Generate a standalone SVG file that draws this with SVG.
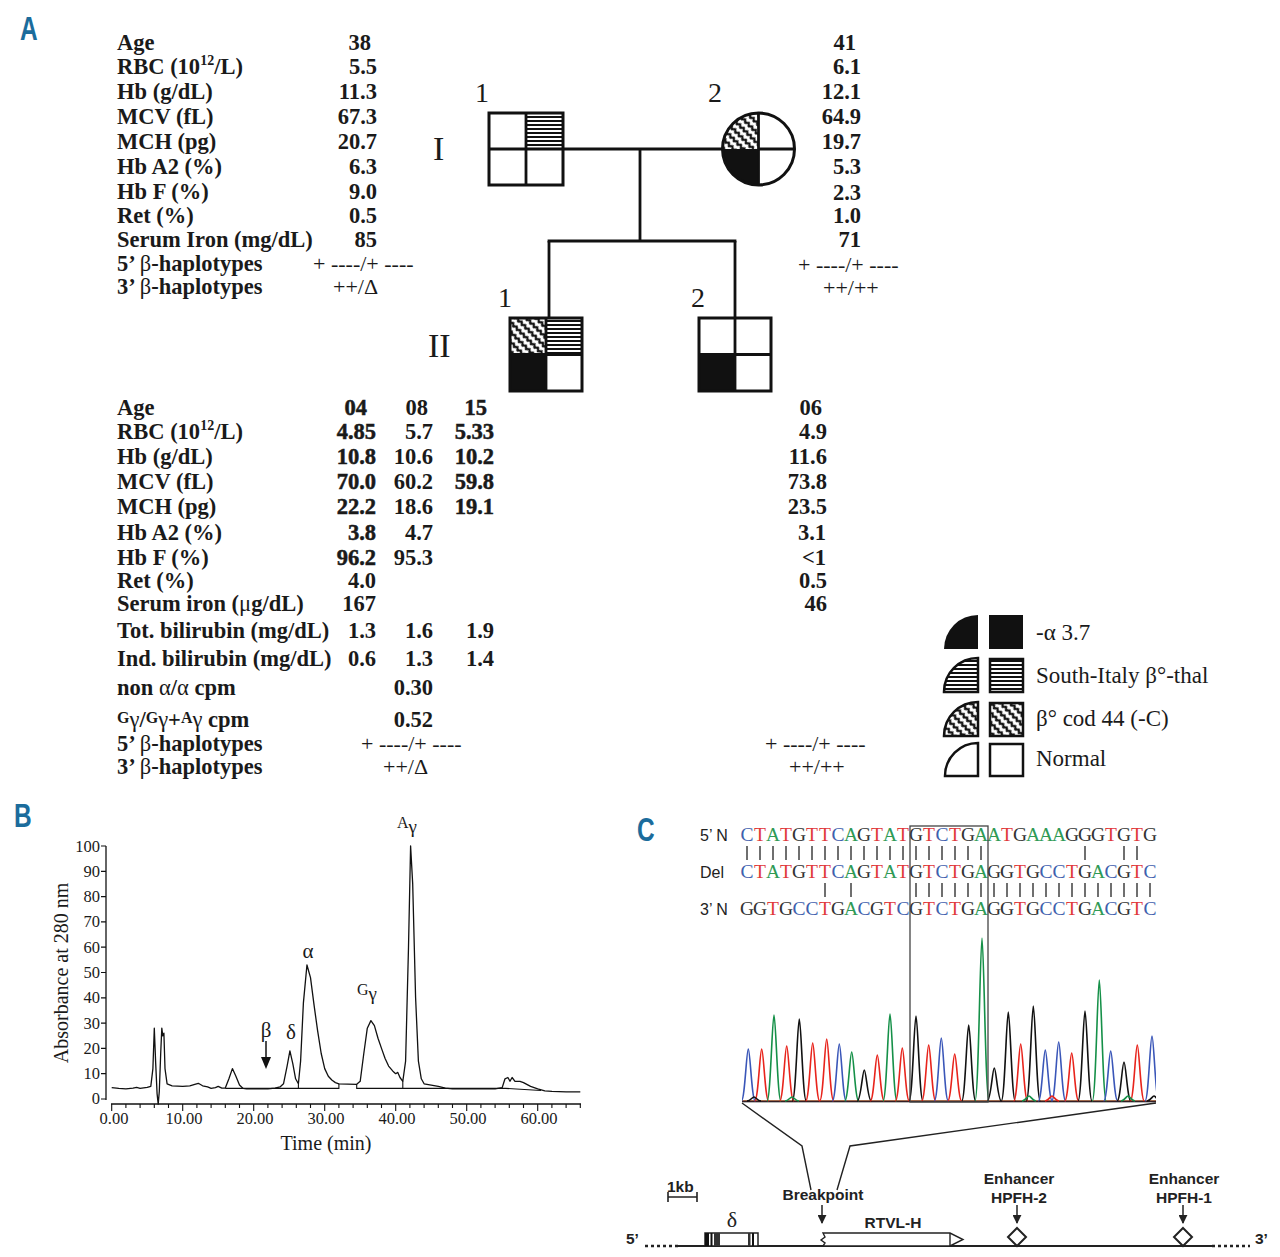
<svg xmlns="http://www.w3.org/2000/svg" xmlns:xlink="http://www.w3.org/1999/xlink" width="1280" height="1257" viewBox="0 0 1280 1257">
<style>
.pl{font-family:"Liberation Sans",Arial,sans-serif;font-weight:bold;fill:#1b6c9c}
.tb{font-family:"Liberation Serif","Times New Roman",serif;font-weight:bold;font-size:22.5px;fill:#1a1a1a}
.tv{font-family:"Liberation Serif","Times New Roman",serif;font-weight:bold;font-size:22.5px;fill:#1a1a1a;text-anchor:end}
.hv{stroke:#1a1a1a;stroke-width:0.5}
.hp{font-family:"Liberation Serif","Times New Roman",serif;font-weight:normal;font-size:22px;fill:#1a1a1a}
.sym{font-weight:normal}
.ped{font-family:"Liberation Serif","Times New Roman",serif;font-size:28px;fill:#1a1a1a}
.rom{font-family:"Liberation Serif","Times New Roman",serif;font-size:34px;fill:#1a1a1a}
.box{fill:none;stroke:#111;stroke-width:3}
.ln{stroke:#111;stroke-width:2.8;fill:none}
.lg{font-family:"Liberation Serif","Times New Roman",serif;font-size:23px;fill:#1a1a1a}
.ax{font-family:"Liberation Serif","Times New Roman",serif;font-size:16.5px;fill:#1a1a1a}
.axl{font-family:"Liberation Serif","Times New Roman",serif;font-size:20px;fill:#1a1a1a}
.sq{font-family:"Liberation Serif","Times New Roman",serif;font-size:19.5px;text-anchor:middle}
.rl{font-family:"Liberation Sans",Arial,sans-serif;font-size:16px;fill:#222}
.C{fill:#3f5fae}.T{fill:#e0383a}.A{fill:#2f9a55}.G{fill:#333}
.gm{font-family:"Liberation Sans",Arial,sans-serif;font-weight:bold;font-size:15.5px;fill:#222}
.pk{fill:none;stroke-width:1.6}
</style>
<defs>
<pattern id="hs" width="8" height="4" patternUnits="userSpaceOnUse"><rect width="8" height="4" fill="#fff"/><rect width="8" height="2" fill="#111"/></pattern>
<pattern id="zz" width="5" height="7" patternUnits="userSpaceOnUse" patternTransform="rotate(45)"><rect width="5" height="7" fill="#111"/><path d="M-1.25,4.4 L0,3.2 L1.25,2 L2.5,3.2 L3.75,4.4 L5,3.2 L6.25,2" fill="none" stroke="#fff" stroke-width="2.8"/></pattern>
<path id="pkp" d="M-7,0 C-3.5,0 -1.8,-1 0,-1 C1.8,-1 3.5,0 7,0" fill="none" vector-effect="non-scaling-stroke"/>
<clipPath id="chc"><rect x="742" y="900" width="414" height="210"/></clipPath>
<marker id="ah" viewBox="0 0 10 10" refX="9" refY="5" markerWidth="9" markerHeight="9" markerUnits="userSpaceOnUse" orient="auto"><path d="M0,0 L10,5 L0,10 Z" fill="#222"/></marker>
</defs>
<rect width="1280" height="1257" fill="#fff"/>

<!-- panel labels -->
<text class="pl" font-size="34" transform="translate(20,40) scale(0.72,1)">A</text>
<text class="pl" font-size="34" transform="translate(14,827) scale(0.72,1)">B</text>
<text class="pl" font-size="34" transform="translate(637,841) scale(0.72,1)">C</text>

<!-- Top table -->
<g id="table-top">
<text class="tb" x="117" y="50">Age</text>
<text class="tb" x="117" y="74">RBC (10<tspan font-size="14" dy="-9">12</tspan><tspan dy="9">/L)</tspan></text>
<text class="tb" x="117" y="99">Hb (g/dL)</text>
<text class="tb" x="117" y="124">MCV (fL)</text>
<text class="tb" x="117" y="149">MCH (pg)</text>
<text class="tb" x="117" y="174">Hb A2 (%)</text>
<text class="tb" x="117" y="199">Hb F (%)</text>
<text class="tb" x="117" y="223">Ret (%)</text>
<text class="tb" x="117" y="247">Serum Iron (mg/dL)</text>
<text class="tb" x="117" y="271">5’ <tspan class="sym">β</tspan>-haplotypes</text>
<text class="tb" x="117" y="294">3’ <tspan class="sym">β</tspan>-haplotypes</text>
<text class="tv" x="371" y="50">38</text>
<text class="tv" x="377" y="74">5.5</text>
<text class="tv" x="377" y="99">11.3</text>
<text class="tv" x="377" y="124">67.3</text>
<text class="tv" x="377" y="149">20.7</text>
<text class="tv" x="377" y="174">6.3</text>
<text class="tv" x="377" y="199">9.0</text>
<text class="tv" x="377" y="223">0.5</text>
<text class="tv" x="377" y="247">85</text>
<text class="hp" x="313" y="271">+ ----/+ ----</text>
<text class="hp" x="333" y="294">++/Δ</text>
<text class="tv" x="856" y="50">41</text>
<text class="tv" x="861" y="74">6.1</text>
<text class="tv" x="861" y="99">12.1</text>
<text class="tv" x="861" y="124">64.9</text>
<text class="tv" x="861" y="149">19.7</text>
<text class="tv" x="861" y="174">5.3</text>
<text class="tv" x="861" y="200">2.3</text>
<text class="tv" x="861" y="223">1.0</text>
<text class="tv" x="861" y="247">71</text>
<text class="hp" x="798" y="272">+ ----/+ ----</text>
<text class="hp" x="823" y="295">++/++</text>
</g>

<!-- Pedigree -->
<g id="connectors">
<line class="ln" x1="563" y1="149" x2="795" y2="149"/>
<line class="ln" x1="640" y1="149" x2="640" y2="241"/>
<line class="ln" x1="547.6" y1="241" x2="736.4" y2="241"/>
<line class="ln" x1="549" y1="241" x2="549" y2="318"/>
<line class="ln" x1="735" y1="241" x2="735" y2="318"/>
</g>
<g id="I-1">
<text class="ped" x="475" y="102">1</text>
<rect x="526" y="113" width="37" height="36" fill="url(#hs)"/>
<rect class="box" x="489" y="113" width="74" height="72"/>
<line class="ln" x1="526" y1="113" x2="526" y2="185"/>
<line class="ln" x1="489" y1="149" x2="563" y2="149"/>
</g>
<g id="I-2">
<text class="ped" x="708" y="102">2</text>
<path d="M758.5,149 L722.5,149 A36,36 0 0 1 758.5,113 Z" fill="url(#zz)"/>
<path d="M758.5,149 L758.5,185 A36,36 0 0 1 722.5,149 Z" fill="#111"/>
<circle class="box" cx="758.5" cy="149" r="36"/>
<line class="ln" x1="758.5" y1="113" x2="758.5" y2="185"/>
</g>
<text class="rom" x="433" y="160">I</text>
<text class="rom" x="428" y="357">II</text>
<g id="II-1">
<text class="ped" x="498" y="307">1</text>
<rect x="510" y="318" width="36" height="36.5" fill="url(#zz)"/>
<rect x="546" y="318" width="36" height="36.5" fill="url(#hs)"/>
<rect x="510" y="354.5" width="36" height="36.5" fill="#111"/>
<rect class="box" x="510" y="318" width="72" height="73"/>
<line class="ln" x1="546" y1="318" x2="546" y2="391"/>
<line class="ln" x1="510" y1="354.5" x2="582" y2="354.5"/>
</g>
<g id="II-2">
<text class="ped" x="691" y="307">2</text>
<rect x="699" y="354.5" width="36" height="36.5" fill="#111"/>
<rect class="box" x="699" y="318" width="72" height="73"/>
<line class="ln" x1="735" y1="318" x2="735" y2="391"/>
<line class="ln" x1="699" y1="354.5" x2="771" y2="354.5"/>
</g>

<!-- Bottom table -->
<g id="table-bottom">
<text class="tb" x="117" y="415">Age</text>
<text class="tb" x="117" y="439">RBC (10<tspan font-size="14" dy="-9">12</tspan><tspan dy="9">/L)</tspan></text>
<text class="tb" x="117" y="464">Hb (g/dL)</text>
<text class="tb" x="117" y="489">MCV (fL)</text>
<text class="tb" x="117" y="514">MCH (pg)</text>
<text class="tb" x="117" y="540">Hb A2 (%)</text>
<text class="tb" x="117" y="565">Hb F (%)</text>
<text class="tb" x="117" y="588">Ret (%)</text>
<text class="tb" x="117" y="611">Serum iron (<tspan class="sym">μ</tspan>g/dL)</text>
<text class="tb" x="117" y="638">Tot. bilirubin (mg/dL)</text>
<text class="tb" x="117" y="666">Ind. bilirubin (mg/dL)</text>
<text class="tb" x="117" y="695">non <tspan class="sym">α</tspan>/<tspan class="sym">α</tspan> cpm</text>
<text class="tb" x="117" y="727"><tspan font-size="16" dy="-4">G</tspan><tspan class="sym" dy="4">γ</tspan>/<tspan font-size="16" dy="-4">G</tspan><tspan class="sym" dy="4">γ</tspan>+<tspan font-size="16" dy="-4">A</tspan><tspan class="sym" dy="4">γ</tspan> cpm</text>
<text class="tb" x="117" y="751">5’ <tspan class="sym">β</tspan>-haplotypes</text>
<text class="tb" x="117" y="774">3’ <tspan class="sym">β</tspan>-haplotypes</text>

<text class="tv hv" x="367" y="415">04</text>
<text class="tv" x="428" y="415">08</text>
<text class="tv hv" x="487" y="415">15</text>
<text class="tv hv" x="376" y="439">4.85</text>
<text class="tv" x="433" y="439">5.7</text>
<text class="tv hv" x="494" y="439">5.33</text>
<text class="tv hv" x="376" y="464">10.8</text>
<text class="tv" x="433" y="464">10.6</text>
<text class="tv hv" x="494" y="464">10.2</text>
<text class="tv hv" x="376" y="489">70.0</text>
<text class="tv" x="433" y="489">60.2</text>
<text class="tv hv" x="494" y="489">59.8</text>
<text class="tv hv" x="376" y="514">22.2</text>
<text class="tv" x="433" y="514">18.6</text>
<text class="tv hv" x="494" y="514">19.1</text>
<text class="tv hv" x="376" y="540">3.8</text>
<text class="tv" x="433" y="540">4.7</text>
<text class="tv hv" x="376" y="565">96.2</text>
<text class="tv" x="433" y="565">95.3</text>
<text class="tv" x="376" y="588">4.0</text>
<text class="tv" x="376" y="611">167</text>
<text class="tv" x="376" y="638">1.3</text>
<text class="tv" x="433" y="638">1.6</text>
<text class="tv" x="494" y="638">1.9</text>
<text class="tv" x="376" y="666">0.6</text>
<text class="tv" x="433" y="666">1.3</text>
<text class="tv" x="494" y="666">1.4</text>
<text class="tv" x="433" y="695">0.30</text>
<text class="tv" x="433" y="727">0.52</text>
<text class="hp" x="361" y="751">+ ----/+ ----</text>
<text class="hp" x="383" y="774">++/Δ</text>

<text class="tv" x="822" y="415">06</text>
<text class="tv" x="827" y="439">4.9</text>
<text class="tv" x="827" y="464">11.6</text>
<text class="tv" x="827" y="489">73.8</text>
<text class="tv" x="827" y="514">23.5</text>
<text class="tv" x="826" y="540">3.1</text>
<text class="tv" x="826" y="565">&lt;1</text>
<text class="tv" x="827" y="588">0.5</text>
<text class="tv" x="827" y="611">46</text>
<text class="hp" x="765" y="751">+ ----/+ ----</text>
<text class="hp" x="789" y="774">++/++</text>
</g>

<!-- Legend -->
<g id="legend">
<path d="M978,649 L944,649 A34,34 0 0 1 978,615 Z" fill="#111"/>
<rect x="989" y="615" width="34" height="34" fill="#111"/>
<text class="lg" x="1036" y="640">-<tspan>α</tspan> 3.7</text>
<path d="M978,692 L944,692 A34,34 0 0 1 978,658 Z" fill="url(#hs)" stroke="#111" stroke-width="2.5"/>
<rect x="990" y="659" width="33" height="33" fill="url(#hs)" stroke="#111" stroke-width="2.5"/>
<text class="lg" x="1036" y="683">South-Italy β°-thal</text>
<path d="M978,736 L944,736 A34,34 0 0 1 978,702 Z" fill="url(#zz)" stroke="#111" stroke-width="2.5"/>
<rect x="990" y="703" width="33" height="33" fill="url(#zz)" stroke="#111" stroke-width="2.5"/>
<text class="lg" x="1036" y="726">β° cod 44 (-C)</text>
<path d="M978,776 L945,776 A33,33 0 0 1 978,743 Z" fill="#fff" stroke="#111" stroke-width="2.5"/>
<rect x="990" y="744" width="33" height="32" fill="#fff" stroke="#111" stroke-width="2.5"/>
<text class="lg" x="1036" y="766">Normal</text>
</g>

<!-- Panel B chromatogram -->
<g id="chart-B">
<line x1="106" y1="846" x2="106" y2="1100" stroke="#111" stroke-width="1.3"/>
<line x1="111" y1="1104" x2="581" y2="1104" stroke="#111" stroke-width="1.3"/>
<path d="M101,846H106M101,871.3H106M101,896.6H106M101,921.9H106M101,947.2H106M101,972.5H106M101,997.8H106M101,1023.1H106M101,1048.4H106M101,1073.7H106M101,1099H106" stroke="#111" stroke-width="1.2"/>
<path d="M111.7,1104V1111M182.7,1104V1111M253.7,1104V1111M324.7,1104V1111M395.7,1104V1111M466.7,1104V1111M537.7,1104V1111M125.9,1104V1108M140.1,1104V1108M154.3,1104V1108M168.5,1104V1108M196.9,1104V1108M211.1,1104V1108M225.3,1104V1108M239.5,1104V1108M267.9,1104V1108M282.1,1104V1108M296.3,1104V1108M310.5,1104V1108M338.9,1104V1108M353.1,1104V1108M367.3,1104V1108M381.5,1104V1108M409.9,1104V1108M424.1,1104V1108M438.3,1104V1108M452.5,1104V1108M480.9,1104V1108M495.1,1104V1108M509.3,1104V1108M523.5,1104V1108M551.9,1104V1108M566.1,1104V1108M580.3,1104V1108" stroke="#111" stroke-width="1.1"/>
<g class="ax" text-anchor="end">
<text x="100" y="852">100</text><text x="100" y="877">90</text><text x="100" y="902">80</text><text x="100" y="927">70</text><text x="100" y="953">60</text><text x="100" y="978">50</text><text x="100" y="1003">40</text><text x="100" y="1029">30</text><text x="100" y="1054">20</text><text x="100" y="1079">10</text><text x="100" y="1104">0</text>
</g>
<g class="ax" text-anchor="middle">
<text x="114" y="1124">0.00</text><text x="184" y="1124">10.00</text><text x="255" y="1124">20.00</text><text x="326" y="1124">30.00</text><text x="397" y="1124">40.00</text><text x="468" y="1124">50.00</text><text x="539" y="1124">60.00</text>
</g>
<text class="axl" x="326" y="1150" text-anchor="middle">Time (min)</text>
<text class="axl" transform="translate(68,973) rotate(-90)" text-anchor="middle">Absorbance at 280 nm</text>
<polyline fill="none" stroke="#111" stroke-width="1.3" stroke-linejoin="round" points="111.7,1087.6 118.8,1088.4 125.9,1088.9 133,1088.1 136.6,1087.4 140.1,1088.4 147.2,1087.4 150.8,1086.4 152.9,1068.6 154.3,1028.2 155.7,1063.6 157.1,1093.9 158.2,1104.1 159.3,1091.4 160.7,1053.5 161.8,1028.2 162.8,1035.8 163.9,1033.2 165,1068.6 167.1,1083.8 172.1,1085.8 182.7,1086.4 189.8,1085.8 194.8,1084.3 198.3,1083.3 202.6,1085.8 207.6,1086.9 211.1,1088.4 215.4,1087.6 218.2,1086.4 221.8,1088.1 225.3,1088.1 228.9,1078.8 232.4,1068.6 235.9,1076.2 239.5,1085.1 243.1,1088.4 246.6,1088.9 253.7,1088.9 260.8,1088.6 267.9,1088.9 275,1088.1 280,1086.9 283.5,1083.8 287.1,1066.1 289.9,1050.9 292.8,1063.6 295.6,1078.8 298.4,1083.8 300.6,1061.1 303.4,1002.9 306.95,965 310.5,977.6 314.1,1005.4 317.6,1030.7 321.2,1053.5 324.7,1068.6 328.3,1076.2 331.8,1080 335.4,1082.6 338.9,1083.8 356.7,1084.3 360.2,1081.3 363.8,1053.5 367.3,1028.2 370.9,1020.6 374.4,1025.6 378,1038.3 381.5,1048.4 385.1,1058.5 388.6,1066.1 392.9,1071.2 395.7,1073.7 397.8,1072.4 400,1077.5 402.8,1081.3 405.6,1061.1 408.5,947.2 410.6,846 412.7,883.9 415.6,997.8 418.4,1061.1 421.3,1078.8 424.1,1083.8 431.2,1085.1 438.3,1086.4 445.4,1088.1 452.5,1088.9 466.7,1088.9 480.9,1088.6 495.1,1088.9 502.2,1087.6 505,1078.8 507.9,1077.5 510,1081.3 512.1,1077.5 515,1081.3 520,1081.3 523.5,1082.6 530.6,1086.4 537.7,1088.9 544.8,1090.9 551.9,1091.4 566.1,1091.9 580.3,1091.9"/>
<path d="M225.3,1088.4H338.9V1083.8M356.7,1084.3V1088.4H505.7L541,1090.5M298.4,1083.8V1088.4M402.8,1081.3V1088.4" fill="none" stroke="#111" stroke-width="1.1"/>
<g class="axl">
<text x="397" y="828" font-size="16">A<tspan font-size="19" dy="5">γ</tspan></text>
<text x="357" y="995" font-size="16">G<tspan font-size="19" dy="5">γ</tspan></text>
<text x="308" y="958" text-anchor="middle" font-size="21">α</text>
<text x="291" y="1039" text-anchor="middle" font-size="21">δ</text>
<text x="266" y="1037" text-anchor="middle" font-size="21">β</text>
</g>
<line x1="266" y1="1041" x2="266" y2="1058" stroke="#111" stroke-width="1.5"/>
<path d="M261,1057 L271,1057 L266,1069 Z" fill="#111"/>
</g>

<!-- Panel C sequences -->
<g id="seq">
<text class="rl" x="700" y="841">5’ N</text>
<text class="rl" x="700" y="878">Del</text>
<text class="rl" x="700" y="915">3’ N</text>
<g class="sq">
<text x="747" y="841" class="C">C</text><text x="760" y="841" class="T">T</text><text x="773" y="841" class="A">A</text><text x="786" y="841" class="T">T</text><text x="799" y="841" class="G">G</text><text x="812" y="841" class="T">T</text><text x="825" y="841" class="T">T</text><text x="838" y="841" class="C">C</text><text x="851" y="841" class="A">A</text><text x="864" y="841" class="G">G</text><text x="877" y="841" class="T">T</text><text x="890" y="841" class="A">A</text><text x="903" y="841" class="T">T</text><text x="916" y="841" class="G">G</text><text x="929" y="841" class="T">T</text><text x="942" y="841" class="C">C</text><text x="955" y="841" class="T">T</text><text x="968" y="841" class="G">G</text><text x="981" y="841" class="A">A</text><text x="994" y="841" class="A">A</text><text x="1007" y="841" class="T">T</text><text x="1020" y="841" class="G">G</text><text x="1033" y="841" class="A">A</text><text x="1046" y="841" class="A">A</text><text x="1059" y="841" class="A">A</text><text x="1072" y="841" class="G">G</text><text x="1085" y="841" class="G">G</text><text x="1098" y="841" class="G">G</text><text x="1111" y="841" class="T">T</text><text x="1124" y="841" class="G">G</text><text x="1137" y="841" class="T">T</text><text x="1150" y="841" class="G">G</text>

<text x="747" y="878" class="C">C</text><text x="760" y="878" class="T">T</text><text x="773" y="878" class="A">A</text><text x="786" y="878" class="T">T</text><text x="799" y="878" class="G">G</text><text x="812" y="878" class="T">T</text><text x="825" y="878" class="T">T</text><text x="838" y="878" class="C">C</text><text x="851" y="878" class="A">A</text><text x="864" y="878" class="G">G</text><text x="877" y="878" class="T">T</text><text x="890" y="878" class="A">A</text><text x="903" y="878" class="T">T</text><text x="916" y="878" class="G">G</text><text x="929" y="878" class="T">T</text><text x="942" y="878" class="C">C</text><text x="955" y="878" class="T">T</text><text x="968" y="878" class="G">G</text><text x="981" y="878" class="A">A</text><text x="994" y="878" class="G">G</text><text x="1007" y="878" class="G">G</text><text x="1020" y="878" class="T">T</text><text x="1033" y="878" class="G">G</text><text x="1046" y="878" class="C">C</text><text x="1059" y="878" class="C">C</text><text x="1072" y="878" class="T">T</text><text x="1085" y="878" class="G">G</text><text x="1098" y="878" class="A">A</text><text x="1111" y="878" class="C">C</text><text x="1124" y="878" class="G">G</text><text x="1137" y="878" class="T">T</text><text x="1150" y="878" class="C">C</text>

<text x="747" y="915" class="G">G</text><text x="760" y="915" class="G">G</text><text x="773" y="915" class="T">T</text><text x="786" y="915" class="G">G</text><text x="799" y="915" class="C">C</text><text x="812" y="915" class="C">C</text><text x="825" y="915" class="T">T</text><text x="838" y="915" class="G">G</text><text x="851" y="915" class="A">A</text><text x="864" y="915" class="C">C</text><text x="877" y="915" class="G">G</text><text x="890" y="915" class="T">T</text><text x="903" y="915" class="C">C</text><text x="916" y="915" class="G">G</text><text x="929" y="915" class="T">T</text><text x="942" y="915" class="C">C</text><text x="955" y="915" class="T">T</text><text x="968" y="915" class="G">G</text><text x="981" y="915" class="A">A</text><text x="994" y="915" class="G">G</text><text x="1007" y="915" class="G">G</text><text x="1020" y="915" class="T">T</text><text x="1033" y="915" class="G">G</text><text x="1046" y="915" class="C">C</text><text x="1059" y="915" class="C">C</text><text x="1072" y="915" class="T">T</text><text x="1085" y="915" class="G">G</text><text x="1098" y="915" class="A">A</text><text x="1111" y="915" class="C">C</text><text x="1124" y="915" class="G">G</text><text x="1137" y="915" class="T">T</text><text x="1150" y="915" class="C">C</text>
</g>
<path stroke="#333" stroke-width="1.4" d="M747,846V860M760,846V860M773,846V860M786,846V860M799,846V860M812,846V860M825,846V860M838,846V860M851,846V860M864,846V860M877,846V860M890,846V860M903,846V860M916,846V860M929,846V860M942,846V860M955,846V860M968,846V860M981,846V860M1085,846V860M1124,846V860M1137,846V860
M825,883V897M851,883V897M916,883V897M929,883V897M942,883V897M955,883V897M968,883V897M981,883V897M994,883V897M1007,883V897M1020,883V897M1033,883V897M1046,883V897M1059,883V897M1072,883V897M1085,883V897M1098,883V897M1111,883V897M1124,883V897M1137,883V897M1150,883V897"/>
</g>

<!-- Sequencing trace -->
<g id="trace" clip-path="url(#chc)">
<path d="M742,1101.5 L1156,1101.5" stroke="#3a56b8" stroke-width="1"/>
<path d="M742,1100.8 L1156,1100.8" stroke="#159048" stroke-width="1"/>
<path d="M742,1101 L1156,1101" stroke="#e8241c" stroke-width="1"/>
<path d="M742,1101.8 L1156,1101.8" stroke="#111" stroke-width="1"/>
<g class="pk">
<use xlink:href="#pkp" stroke="#3a56b8" transform="translate(748.3 1101) scale(1 52)"/>
<use xlink:href="#pkp" stroke="#e8241c" transform="translate(761.7 1101) scale(1 52)"/>
<use xlink:href="#pkp" stroke="#159048" transform="translate(774 1101) scale(1 86)"/>
<use xlink:href="#pkp" stroke="#e8241c" transform="translate(786.7 1101) scale(1 55)"/>
<use xlink:href="#pkp" stroke="#111" transform="translate(799.3 1101) scale(1 82)"/>
<use xlink:href="#pkp" stroke="#e8241c" transform="translate(812.7 1101) scale(1 58)"/>
<use xlink:href="#pkp" stroke="#e8241c" transform="translate(826.7 1101) scale(1 62)"/>
<use xlink:href="#pkp" stroke="#3a56b8" transform="translate(839.3 1101) scale(1 57)"/>
<use xlink:href="#pkp" stroke="#159048" transform="translate(851.7 1101) scale(1 49)"/>
<use xlink:href="#pkp" stroke="#111" transform="translate(864.3 1101) scale(1 31)"/>
<use xlink:href="#pkp" stroke="#e8241c" transform="translate(877.3 1101) scale(1 46)"/>
<use xlink:href="#pkp" stroke="#159048" transform="translate(890 1101) scale(1 87)"/>
<use xlink:href="#pkp" stroke="#e8241c" transform="translate(902.3 1101) scale(1 53)"/>
<use xlink:href="#pkp" stroke="#111" transform="translate(916 1101) scale(1 85)"/>
<use xlink:href="#pkp" stroke="#e8241c" transform="translate(928.7 1101) scale(1 56)"/>
<use xlink:href="#pkp" stroke="#3a56b8" transform="translate(941.3 1101) scale(1 63)"/>
<use xlink:href="#pkp" stroke="#e8241c" transform="translate(954.7 1101) scale(1 47)"/>
<use xlink:href="#pkp" stroke="#111" transform="translate(968.7 1101) scale(1 76)"/>
<use xlink:href="#pkp" stroke="#159048" transform="translate(982 1101) scale(1 163)"/>
<use xlink:href="#pkp" stroke="#111" transform="translate(994.3 1101) scale(1 33)"/>
<use xlink:href="#pkp" stroke="#111" transform="translate(1008.3 1101) scale(1 89)"/>
<use xlink:href="#pkp" stroke="#e8241c" transform="translate(1020.7 1101) scale(1 57)"/>
<use xlink:href="#pkp" stroke="#111" transform="translate(1033.3 1101) scale(1 95)"/>
<use xlink:href="#pkp" stroke="#3a56b8" transform="translate(1045.3 1101) scale(1 51)"/>
<use xlink:href="#pkp" stroke="#3a56b8" transform="translate(1058.7 1101) scale(1 59)"/>
<use xlink:href="#pkp" stroke="#e8241c" transform="translate(1071.7 1101) scale(1 48)"/>
<use xlink:href="#pkp" stroke="#111" transform="translate(1085 1101) scale(1 90)"/>
<use xlink:href="#pkp" stroke="#159048" transform="translate(1099.3 1101) scale(1 121)"/>
<use xlink:href="#pkp" stroke="#3a56b8" transform="translate(1110.7 1101) scale(1 50)"/>
<use xlink:href="#pkp" stroke="#111" transform="translate(1124 1101) scale(1 39)"/>
<use xlink:href="#pkp" stroke="#e8241c" transform="translate(1137.3 1101) scale(1 56)"/>
<use xlink:href="#pkp" stroke="#3a56b8" transform="translate(1152 1101) scale(1 65)"/>
<use xlink:href="#pkp" stroke="#111" transform="translate(754 1101) scale(1 4)"/>
<use xlink:href="#pkp" stroke="#159048" transform="translate(792 1101) scale(1 4)"/>
<use xlink:href="#pkp" stroke="#159048" transform="translate(1029 1101) scale(1 5)"/>
<use xlink:href="#pkp" stroke="#e8241c" transform="translate(1052 1101) scale(1 5)"/>
<use xlink:href="#pkp" stroke="#159048" transform="translate(1128 1101) scale(1 5)"/>
<use xlink:href="#pkp" stroke="#111" transform="translate(1154 1101) scale(1 5)"/>
</g>
</g>
<rect x="910" y="826" width="78" height="276" fill="none" stroke="#444" stroke-width="1.3"/>

<!-- Zoom lines -->
<polyline points="742,1103 802,1146 811,1190" fill="none" stroke="#222" stroke-width="1.4"/>
<polyline points="1156,1103 850,1146 837,1190" fill="none" stroke="#222" stroke-width="1.4"/>

<!-- Gene map -->
<g id="gene-map">
<text class="gm" x="667" y="1192">1kb</text>
<path d="M668,1197H697M668,1192V1202M697,1192V1202" stroke="#222" stroke-width="1.6" fill="none"/>
<text class="gm" x="823" y="1200" text-anchor="middle">Breakpoint</text>
<line x1="822" y1="1205" x2="822" y2="1223" stroke="#222" stroke-width="1.5" marker-end="url(#ah)"/>
<text class="gm" x="1019" y="1184" text-anchor="middle">Enhancer</text>
<text class="gm" x="1019" y="1203" text-anchor="middle">HPFH-2</text>
<line x1="1017" y1="1205" x2="1017" y2="1223" stroke="#222" stroke-width="1.5" marker-end="url(#ah)"/>
<text class="gm" x="1184" y="1184" text-anchor="middle">Enhancer</text>
<text class="gm" x="1184" y="1203" text-anchor="middle">HPFH-1</text>
<line x1="1183" y1="1205" x2="1183" y2="1223" stroke="#222" stroke-width="1.5" marker-end="url(#ah)"/>
<text class="gm" x="893" y="1228" text-anchor="middle">RTVL-H</text>
<text class="gm" x="626" y="1244" font-size="16">5’</text>
<text class="gm" x="1255" y="1244" font-size="16">3’</text>
<line x1="678" y1="1246" x2="1212" y2="1246" stroke="#222" stroke-width="2"/>
<path d="M645,1246H678M1212,1246H1250" stroke="#222" stroke-width="2.5" stroke-dasharray="3,3" fill="none"/>
<rect x="705" y="1233" width="53" height="13" fill="#fff" stroke="#222" stroke-width="1.5"/>
<rect x="705" y="1233" width="4" height="13" fill="#111"/>
<rect x="710.5" y="1233" width="2" height="13" fill="#111"/>
<rect x="714" y="1233" width="6" height="13" fill="#333"/>
<rect x="748" y="1233" width="2.5" height="13" fill="#333"/>
<rect x="752" y="1233" width="2" height="13" fill="#111"/>
<text x="732" y="1227" text-anchor="middle" font-family="Liberation Serif, Times New Roman, serif" font-size="22" fill="#222">δ</text>
<path d="M823,1233 H950 L963,1239.5 L950,1246 H823 L825,1243 L821,1240 L825,1237 Z" fill="#fff" stroke="#222" stroke-width="1.4"/>
<line x1="950" y1="1233" x2="950" y2="1246" stroke="#222" stroke-width="1.4"/>
<path d="M1017,1228 L1026,1237 L1017,1246 L1008,1237 Z" fill="#fff" stroke="#222" stroke-width="2"/>
<path d="M1183,1228 L1192,1237 L1183,1246 L1174,1237 Z" fill="#fff" stroke="#222" stroke-width="2"/>
</g>
</svg>
